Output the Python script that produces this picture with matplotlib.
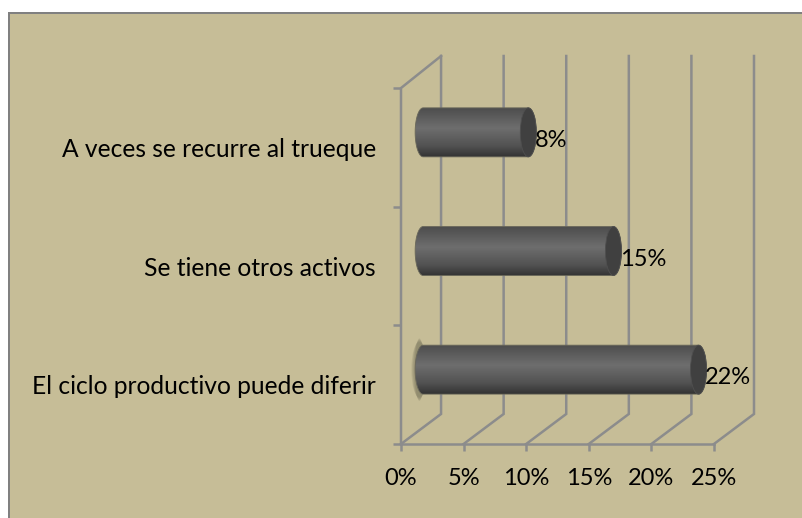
import matplotlib
matplotlib.use('Agg')
import matplotlib.pyplot as plt
import numpy as np
from matplotlib.patches import Ellipse, Rectangle, PathPatch
from matplotlib.path import Path
from matplotlib.colors import LinearSegmentedColormap

categories = ['El ciclo productivo puede diferir', 'Se tiene otros activos', 'A veces se recurre al trueque']
values = [22.0, 15.2, 8.4]
value_labels = ['22%', '15%', '8%']
x_ticks = [0, 5, 10, 15, 20, 25]

W, H = 802, 518
BG = '#c6bd97'
LINE = '#8c8c8c'
DEPTH_X = 3.2
DEPTH_Y = 0.253
BAR_H = 0.413
CAP_W = 1.28

plt.rcParams['font.family'] = ['Lato', 'DejaVu Sans']

fig = plt.figure(figsize=(W / 100, H / 100), dpi=100, facecolor='white')

# chart area: grey top and left edge, open at the right and bottom
fig.patches.append(Rectangle((8 / W, 0), 1, 1 - 12 / H, transform=fig.transFigure,
                             facecolor='#808080', edgecolor='none', zorder=-2))
fig.patches.append(Rectangle((10 / W, 0), 1, 1 - 14 / H, transform=fig.transFigure,
                             facecolor=BG, edgecolor='none', zorder=-1))

ax = fig.add_axes([401 / W, (H - 444) / H, 353 / W, 388 / H])
ax.patch.set_alpha(0)
for s in ax.spines.values():
    s.set_visible(False)

# walls and floor
for v in x_ticks:
    ax.plot([v, v + DEPTH_X, v + DEPTH_X], [0, DEPTH_Y, 3 + DEPTH_Y + 0.017],
            color=LINE, lw=1.8, zorder=1, clip_on=False, solid_joinstyle='miter')
ax.plot([0, 25], [0, 0], color=LINE, lw=1.8, zorder=1, clip_on=False)
ax.plot([0, 0, DEPTH_X], [0, 3, 3 + DEPTH_Y + 0.017], color=LINE, lw=1.8, zorder=1, clip_on=False)

cmap = LinearSegmentedColormap.from_list('cyl', [(0, '#4c4c4c'), (0.42, '#6e6e6e'),
                                                  (0.78, '#525252'), (1, '#333333')])
grad = np.linspace(0, 1, 128).reshape(-1, 1)
t = np.linspace(np.pi / 2, 3 * np.pi / 2, 40)

for i, v in enumerate(values):
    yc = i + 0.5 + DEPTH_Y / 2
    y0, y1 = yc - BAR_H / 2, yc + BAR_H / 2
    x0 = DEPTH_X / 2 + 0.17
    xe = v + DEPTH_X / 2 + 0.17
    a = CAP_W / 2

    # soft halo behind the base of the longest bar
    if i == 0:
        for k in range(6):
            ax.add_patch(Ellipse((x0 - 0.3, yc), 0.7 + 0.12 * k, BAR_H * (1.28 - 0.03 * k),
                                 facecolor='#6f6b55', edgecolor='none', alpha=0.13, zorder=2))

    xs = np.r_[x0 + a * np.cos(t), xe - a * np.cos(t[::-1])]
    ys = np.r_[yc + BAR_H / 2 * np.sin(t), yc + BAR_H / 2 * np.sin(t[::-1])]
    verts = np.c_[xs, ys]
    verts = np.r_[verts, verts[:1]]
    outline = PathPatch(Path(verts), facecolor='none', edgecolor='#6a685a', lw=0.6, zorder=4)
    ax.add_patch(outline)
    im = ax.imshow(grad, extent=(x0 - a, xe + a, y0, y1), origin='upper', cmap=cmap,
                   aspect='auto', zorder=3, interpolation='bilinear')
    im.set_clip_path(PathPatch(Path(verts), transform=ax.transData))
    ax.add_patch(Ellipse((xe, yc), CAP_W, BAR_H, facecolor='#404040', edgecolor='#4f4f4f',
                         lw=0.6, zorder=5))
    ax.annotate(value_labels[i], (xe + a, yc), xytext=(-1, -6), textcoords='offset points',
                ha='left', va='center', fontsize=17, color='black', zorder=6)

ax.set_xlim(0, 28.2)
ax.set_ylim(0, 3.27)

ax.set_xticks(x_ticks)
ax.set_xticklabels([f'{v}%' for v in x_ticks], fontsize=17)
ax.tick_params(axis='x', which='major', color=LINE, width=1.8, length=5, pad=12)
ax.set_yticks([0, 1, 2, 3])
ax.set_yticklabels([])
ax.set_yticks([0.5, 1.5, 2.5], minor=True)
ax.set_yticklabels(categories, minor=True, fontsize=17.7)
ax.tick_params(axis='y', which='major', color=LINE, width=1.8, length=6)
ax.tick_params(axis='y', which='minor', length=0, pad=18)

fig.savefig('out.png', dpi=100)
